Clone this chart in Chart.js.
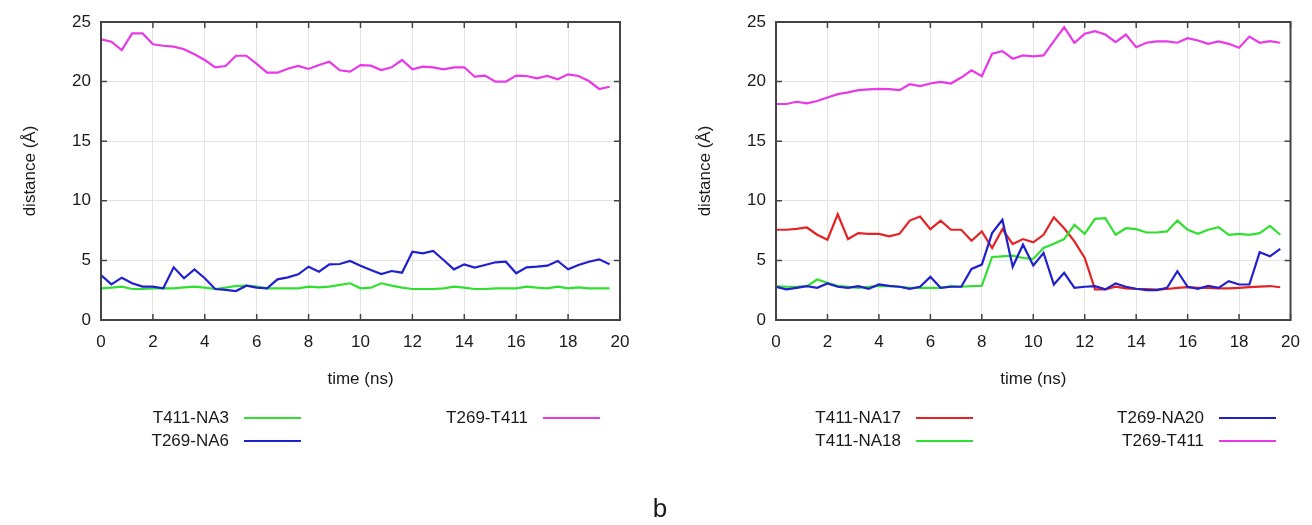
<!DOCTYPE html>
<html>
<head>
<meta charset="utf-8">
<script src="https://cdn.jsdelivr.net/npm/chart.js@4.4.0/dist/chart.umd.min.js"></script>
<style>
  body { margin: 0; width: 1312px; height: 525px; background: #fff; position: relative; overflow: hidden;
         font-family: "Liberation Sans", Arial, sans-serif; color: #1a1a1a; }
  canvas { position: absolute; top: 0; }
  .txt { position: absolute; font-size: 17px; line-height: 20px; white-space: nowrap; transform: translate(-100%, -50%); }
  .sw { position: absolute; height: 2px; }
  #fig { position: absolute; left: 660px; top: 508px; font-size: 26px; transform: translate(-50%, -50%); }
</style>
</head>
<body>
<canvas id="left" width="656" height="525" style="left:0"></canvas>
<canvas id="right" width="656" height="525" style="left:656px"></canvas>
<div id="fig">b</div>
<script>
// time axis (ns), one frame every 0.4 ns
const times = [0, 0.4, 0.8, 1.2, 1.6, 2, 2.4, 2.8, 3.2, 3.6, 4, 4.4, 4.8, 5.2, 5.6, 6, 6.4, 6.8, 7.2, 7.6,
  8, 8.4, 8.8, 9.2, 9.6, 10, 10.4, 10.8, 11.2, 11.6, 12, 12.4, 12.8, 13.2, 13.6, 14, 14.4, 14.8, 15.2, 15.6,
  16, 16.4, 16.8, 17.2, 17.6, 18, 18.4, 18.8, 19.2, 19.6];
const xTicks = [0, 2, 4, 6, 8, 10, 12, 14, 16, 18, 20];
const yTicks = [0, 5, 10, 15, 20, 25];

// left panel
const t411_na3 = [2.66, 2.71, 2.80, 2.60, 2.60, 2.66, 2.66, 2.66, 2.74, 2.80, 2.71, 2.60, 2.71, 2.85, 2.88, 2.80, 2.66, 2.66, 2.66, 2.66,
  2.80, 2.74, 2.80, 2.94, 3.08, 2.66, 2.71, 3.08, 2.88, 2.71, 2.60, 2.60, 2.60, 2.66, 2.80, 2.71, 2.60, 2.60, 2.66, 2.66,
  2.66, 2.80, 2.71, 2.66, 2.80, 2.66, 2.74, 2.66, 2.66, 2.66];
const t269_na6 = [3.78, 2.99, 3.55, 3.08, 2.80, 2.80, 2.66, 4.42, 3.50, 4.25, 3.50, 2.60, 2.52, 2.43, 2.88, 2.71, 2.66, 3.41, 3.58, 3.83,
  4.47, 4.05, 4.67, 4.70, 4.95, 4.56, 4.19, 3.86, 4.11, 3.97, 5.73, 5.59, 5.79, 5.03, 4.25, 4.67, 4.39, 4.61, 4.84, 4.89,
  3.92, 4.42, 4.47, 4.56, 4.95, 4.25, 4.61, 4.89, 5.09, 4.67];
const t269_t411_a = [23.55, 23.35, 22.65, 24.05, 24.05, 23.13, 23.01, 22.93, 22.71, 22.29, 21.81, 21.20, 21.31, 22.17, 22.17, 21.48, 20.75, 20.75, 21.08, 21.31,
  21.06, 21.39, 21.66, 20.95, 20.83, 21.39, 21.34, 20.97, 21.20, 21.81, 21.03, 21.25, 21.20, 21.03, 21.20, 21.20, 20.41, 20.50, 19.99, 19.99,
  20.50, 20.47, 20.27, 20.47, 20.19, 20.61, 20.47, 20.05, 19.38, 19.57];

// right panel
const t411_na17 = [7.57, 7.57, 7.65, 7.76, 7.15, 6.73, 8.87, 6.79, 7.29, 7.23, 7.23, 7.01, 7.23, 8.34, 8.68, 7.62, 8.34, 7.57, 7.57, 6.65,
  7.43, 6.04, 7.62, 6.37, 6.79, 6.51, 7.15, 8.62, 7.70, 6.59, 5.20, 2.57, 2.57, 2.80, 2.65, 2.60, 2.60, 2.55, 2.60, 2.70,
  2.75, 2.70, 2.70, 2.65, 2.65, 2.70, 2.75, 2.80, 2.85, 2.75];
const t411_na18 = [2.84, 2.79, 2.79, 2.84, 3.40, 3.12, 2.87, 2.79, 2.70, 2.79, 2.87, 2.84, 2.79, 2.70, 2.70, 2.70, 2.70, 2.84, 2.79, 2.84,
  2.87, 5.29, 5.34, 5.40, 5.20, 5.12, 6.04, 6.40, 6.79, 7.98, 7.23, 8.48, 8.54, 7.15, 7.70, 7.62, 7.34, 7.34, 7.43, 8.34,
  7.57, 7.23, 7.57, 7.79, 7.15, 7.23, 7.15, 7.29, 7.90, 7.15];
const t269_na20 = [2.79, 2.57, 2.70, 2.84, 2.70, 3.07, 2.79, 2.70, 2.84, 2.62, 2.98, 2.87, 2.79, 2.62, 2.79, 3.62, 2.70, 2.79, 2.79, 4.29,
  4.65, 7.29, 8.40, 4.46, 6.32, 4.57, 5.62, 2.98, 3.96, 2.70, 2.79, 2.84, 2.57, 3.07, 2.79, 2.62, 2.51, 2.51, 2.70, 4.09,
  2.79, 2.62, 2.87, 2.70, 3.26, 2.98, 2.98, 5.68, 5.34, 5.96];
const t269_t411_b = [18.12, 18.12, 18.31, 18.17, 18.37, 18.67, 18.95, 19.09, 19.28, 19.34, 19.39, 19.37, 19.28, 19.78, 19.62, 19.84, 19.98, 19.84, 20.34, 20.95,
  20.45, 22.34, 22.56, 21.92, 22.20, 22.12, 22.20, 23.39, 24.56, 23.26, 24.01, 24.23, 23.95, 23.31, 23.95, 22.89, 23.26, 23.37, 23.37, 23.26,
  23.64, 23.45, 23.17, 23.37, 23.17, 22.84, 23.78, 23.26, 23.39, 23.26];

const GREEN = '#30e030', BLUE = '#2020cc', MAGENTA = '#e838e8', RED = '#e42424';
const FONT = { family: '"Liberation Sans", Arial, sans-serif', size: 17 };

// gnuplot style frame with inward ticks
const frame = {
  id: 'frame',
  afterDraw(chart) {
    const { ctx, chartArea: a, scales: { x, y } } = chart;
    ctx.save();
    ctx.strokeStyle = '#444';
    ctx.lineWidth = 1.5;
    ctx.beginPath();
    x.ticks.forEach(t => {
      const px = x.getPixelForValue(t.value);
      ctx.moveTo(px, a.bottom); ctx.lineTo(px, a.bottom - 6);
      ctx.moveTo(px, a.top); ctx.lineTo(px, a.top + 6);
    });
    y.ticks.forEach(t => {
      const py = y.getPixelForValue(t.value);
      ctx.moveTo(a.left, py); ctx.lineTo(a.left + 6, py);
      ctx.moveTo(a.right, py); ctx.lineTo(a.right - 6, py);
    });
    ctx.stroke();
    ctx.lineWidth = 2;
    ctx.strokeRect(a.left, a.top, a.right - a.left, a.bottom - a.top);
    ctx.restore();
  }
};

function makeChart(id, series, yAxisWidth, rightPad, yTitlePad) {
  const n = series.length;
  new Chart(document.getElementById(id), {
    type: 'line',
    data: {
      datasets: series.map((s, i) => ({
        label: s.label,
        data: times.map((t, k) => ({ x: t, y: s.data[k] })),
        borderColor: s.color,
        borderWidth: 2.2,
        pointRadius: 0,
        tension: 0,
        order: n - i
      }))
    },
    options: {
      responsive: false,
      animation: false,
      layout: { padding: { left: 0, right: rightPad, top: 22, bottom: 125 } },
      plugins: { legend: { display: false }, tooltip: { enabled: false } },
      scales: {
        x: {
          type: 'linear', min: 0, max: 20,
          afterBuildTicks: s => { s.ticks = xTicks.map(v => ({ value: v })); },
          afterFit: s => { s.height = 80; },
          ticks: { color: '#1a1a1a', font: FONT, padding: 12, maxRotation: 0 },
          grid: { color: '#e4e4e4', lineWidth: 1, drawTicks: false },
          border: { display: false },
          title: { display: true, text: 'time (ns)', color: '#1a1a1a', font: FONT, padding: { top: 0, bottom: 10 } }
        },
        y: {
          min: 0, max: 25,
          afterBuildTicks: s => { s.ticks = yTicks.map(v => ({ value: v })); },
          afterFit: s => { s.width = yAxisWidth; },
          ticks: { color: '#1a1a1a', font: FONT, padding: 10 },
          grid: { color: '#e4e4e4', lineWidth: 1, drawTicks: false },
          border: { display: false },
          title: { display: true, text: 'distance (Å)', color: '#1a1a1a', font: FONT, padding: { top: yTitlePad, bottom: 0 } }
        }
      }
    },
    plugins: [frame]
  });
}

makeChart('left', [
  { label: 'T411-NA3', data: t411_na3, color: GREEN },
  { label: 'T269-NA6', data: t269_na6, color: BLUE },
  { label: 'T269-T411', data: t269_t411_a, color: MAGENTA }
], 101, 36, 20);

makeChart('right', [
  { label: 'T411-NA17', data: t411_na17, color: RED },
  { label: 'T411-NA18', data: t411_na18, color: GREEN },
  { label: 'T269-NA20', data: t269_na20, color: BLUE },
  { label: 'T269-T411', data: t269_t411_b, color: MAGENTA }
], 120, 17, 39);

// gnuplot style key: text then a line sample
const keys = [
  { text: 'T411-NA3', color: GREEN, tx: 229, y: 418 },
  { text: 'T269-NA6', color: BLUE, tx: 229, y: 441 },
  { text: 'T269-T411', color: MAGENTA, tx: 528, y: 418 },
  { text: 'T411-NA17', color: RED, tx: 901, y: 418 },
  { text: 'T411-NA18', color: GREEN, tx: 901, y: 441 },
  { text: 'T269-NA20', color: BLUE, tx: 1204, y: 418 },
  { text: 'T269-T411', color: MAGENTA, tx: 1204, y: 441 }
];
keys.forEach(k => {
  const t = document.createElement('div');
  t.className = 'txt';
  t.textContent = k.text;
  t.style.left = k.tx + 'px';
  t.style.top = k.y + 'px';
  document.body.appendChild(t);
  const l = document.createElement('div');
  l.className = 'sw';
  l.style.left = (k.tx + 15) + 'px';
  l.style.width = '57px';
  l.style.top = (k.y - 1) + 'px';
  l.style.background = k.color;
  document.body.appendChild(l);
});
</script>
</body>
</html>
